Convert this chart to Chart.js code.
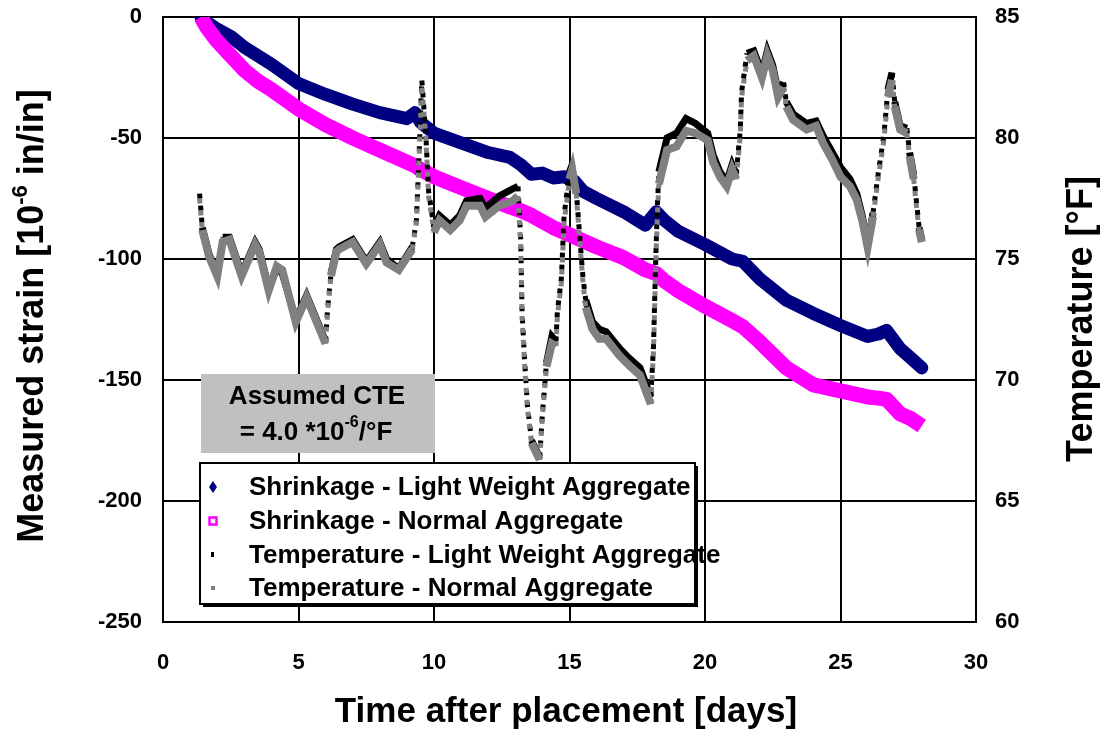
<!DOCTYPE html>
<html>
<head>
<meta charset="utf-8">
<script src="https://cdn.jsdelivr.net/npm/chart.js@4"></script>
<style>
  body { margin: 0; background: #fff; }
  #wrap { width: 1103px; height: 735px; }
</style>
</head>
<body>
<div id="wrap"><canvas id="chart" width="1103" height="735"></canvas></div>
<script>
// Shrinkage readings (strain, 10^-6 in/in) vs time after placement (days)
const shrinkDays = [1.4, 1.6, 2, 2.5, 3, 3.5, 4, 5, 6, 7, 8, 9, 9.3, 9.5, 10, 11, 12, 12.8, 13.2, 13.6, 14, 14.4,
  14.8, 15.2, 15.5, 16, 17, 17.8, 18.2, 18.5, 19, 20, 21, 21.4, 22, 23, 24, 25, 26, 26.4, 26.7, 27.2, 27.6, 28];
const shrinkLWA = [0, -2, -5, -8, -12.5, -16, -19.5, -27.5, -32, -36, -39.5, -42, -39.5, -43.5, -48, -52, -56, -58,
  -61, -65, -64.5, -66.5, -66, -68, -72, -75, -80.5, -86, -80.5, -84, -88.5, -94, -100, -101, -108, -117, -122.5,
  -127.5, -132, -131, -129.5, -137, -141, -145];
const shrinkNA = [0, -4, -10, -16, -22, -26.5, -30, -38, -44.5, -50, -55, -60, -61.5, -63, -66, -70.5, -75, -78.5,
  -80, -82, -84.5, -87, -89, -91, -92.5, -95, -99.5, -104.5, -106, -109, -113, -119.5, -125.5, -128, -134, -145,
  -152, -154.5, -157, -157.5, -158, -164, -166, -169];

// Temperature readings (°F)
const tempDays = [1.35, 1.45, 1.7, 2.0, 2.2, 2.45, 2.9, 3.4, 3.55, 3.9, 4.2, 4.4, 4.9, 5.3, 6.0,
  6.07, 6.2, 6.4, 6.5, 7.0, 7.5, 8.0, 8.25, 8.7, 9.2,
  9.35, 9.45, 9.55, 9.7, 9.8, 10.0, 10.2, 10.6, 10.95, 11.2, 11.7, 11.9, 12.4, 12.9, 13.1,
  13.2, 13.25, 13.35, 13.45, 13.6, 13.9, 14.0, 14.15, 14.35, 14.5, 14.55, 14.7, 14.8, 15.0, 15.1, 15.25, 15.4,
  15.5, 15.6, 15.85, 16.1, 16.35, 16.85, 17.2, 17.6, 18.0,
  18.1, 18.15, 18.2, 18.25, 18.3, 18.6, 18.95, 19.3, 19.65, 20.1, 20.3, 20.55, 20.8, 21.0, 21.15, 21.3, 21.35,
  21.55, 21.8, 22.1, 22.3, 22.5, 22.7, 22.9, 23.0, 23.25, 23.75, 24.1, 24.35, 24.7, 25.0, 25.35, 25.6, 25.8,
  26.0, 26.2, 26.4, 26.6, 26.75, 26.9, 27.0, 27.2, 27.45, 27.55, 27.7, 27.8, 27.9, 28.0];
const tempLWA = [77.7, 76.3, 75.2, 74.4, 75.9, 75.9, 74.4, 75.7, 75.4, 73.8, 74.6, 74.4, 72.5, 73.5, 71.6,
  72.9, 74.4, 75.4, 75.5, 75.8, 74.9, 75.7, 75.0, 74.6, 75.5,
  76.6, 79.3, 82.4, 80.1, 77.8, 76.3, 76.8, 76.4, 76.8, 77.4, 77.5, 77.1, 77.6, 77.9, 78.0,
  75.8, 72.8, 70.7, 68.9, 67.5, 66.8, 68.6, 70.7, 71.8, 71.6, 72.8, 74.2, 76.8, 78.6, 78.9, 77.8, 75.6,
  74.2, 73.3, 72.4, 72.1, 72.0, 71.3, 70.9, 70.5, 69.3,
  71.4, 73.6, 75.7, 77.4, 78.6, 80.0, 80.2, 80.8, 80.6, 80.2, 79.3, 78.6, 78.2, 78.9, 78.5, 80.3, 81.9,
  83.5, 83.6, 82.7, 83.6, 83.0, 81.9, 82.3, 81.5, 81.0, 80.6, 80.7, 80.1, 79.4, 78.8, 78.3, 77.7, 76.8,
  75.6, 76.9, 78.6, 80.1, 82.0, 82.7, 81.5, 80.5, 80.4, 79.4, 78.5, 77.4, 76.3, 75.8];
const tempNA = [77.5, 76.2, 75.1, 74.3, 75.7, 75.8, 74.3, 75.6, 75.3, 73.7, 74.7, 74.55, 72.4, 73.4, 71.5,
  72.8, 74.3, 75.3, 75.4, 75.7, 74.8, 75.6, 74.85, 74.55, 75.4,
  76.5, 79.1, 82.2, 80.0, 77.6, 76.1, 76.6, 76.2, 76.6, 77.2, 77.2, 76.75, 77.2, 77.4, 77.6,
  75.5, 72.6, 70.5, 68.8, 67.4, 66.7, 68.5, 70.55, 71.5, 71.4, 72.6, 74.0, 76.5, 78.3, 78.7, 77.7, 75.4,
  74.0, 73.0, 72.1, 71.7, 71.7, 71.0, 70.6, 70.2, 69.0,
  71.2, 73.3, 75.4, 77.0, 78.1, 79.5, 79.65, 80.3, 80.2, 79.9, 79.0, 78.4, 78.0, 78.7, 78.3, 80.05, 81.7,
  83.2, 83.4, 82.5, 83.4, 82.8, 81.7, 82.1, 81.3, 80.75, 80.35, 80.5, 79.8, 79.1, 78.4, 78.0, 77.45, 76.6,
  75.5, 76.75, 78.4, 79.9, 81.7, 82.4, 81.3, 80.35, 80.2, 79.25, 78.3, 77.2, 76.2, 75.7];

const seriesLabels = [
  'Shrinkage - Light Weight Aggregate',
  'Shrinkage - Normal Aggregate',
  'Temperature - Light Weight Aggregate',
  'Temperature - Normal Aggregate'
];

const FONT = "'Liberation Sans', Arial, sans-serif";

const toPoints = (xs, ys) => xs.map((x, i) => ({ x: x, y: ys[i] }));

// fast temperature swings are sparse in the logger data, so they show as dots
const isSteep = ctx => Math.abs(ctx.p1.y - ctx.p0.y) > 6.4 * Math.abs(ctx.p1.x - ctx.p0.x);
const tempSegment = {
  borderDash: ctx => isSteep(ctx) ? [5, 7] : undefined,
  borderWidth: ctx => isSteep(ctx) ? 5 : undefined
};

function drawRich(ctx, parts, x, y) {
  let total = 0;
  parts.forEach(p => { ctx.font = p[1]; total += ctx.measureText(p[0]).width; });
  let cx = x - total / 2;
  ctx.textAlign = 'left';
  parts.forEach(p => {
    ctx.font = p[1];
    ctx.fillText(p[0], cx, y + p[2]);
    cx += ctx.measureText(p[0]).width;
  });
}

const overlays = {
  id: 'overlays',
  afterDraw(chart) {
    const ctx = chart.ctx;
    ctx.save();
    ctx.fillStyle = '#000';
    ctx.textBaseline = 'middle';

    // left axis title with superscript
    ctx.save();
    ctx.translate(33, 316);
    ctx.rotate(-Math.PI / 2);
    drawRich(ctx, [
      ['Measured strain [10', 'bold 36px ' + FONT, 0],
      ['-6', 'bold 22px ' + FONT, -12],
      [' in/in]', 'bold 36px ' + FONT, 0]
    ], 0, 0);
    ctx.restore();

    // right axis title
    ctx.save();
    ctx.translate(1082, 319);
    ctx.rotate(-Math.PI / 2);
    ctx.textAlign = 'center';
    ctx.font = 'bold 36px ' + FONT;
    ctx.fillText('Temperature [°F]', 0, 0);
    ctx.restore();

    // bottom axis title
    ctx.textAlign = 'center';
    ctx.font = 'bold 35px ' + FONT;
    ctx.fillText('Time after placement [days]', 566, 712);

    // CTE note
    ctx.fillStyle = '#c0c0c0';
    ctx.fillRect(201, 374, 234, 79);
    ctx.fillStyle = '#000';
    ctx.textAlign = 'center';
    ctx.font = 'bold 26px ' + FONT;
    ctx.fillText('Assumed CTE', 317, 397);
    drawRich(ctx, [
      ['= 4.0 *10', 'bold 26px ' + FONT, 0],
      ['-6', 'bold 16px ' + FONT, -10],
      ['/°F', 'bold 26px ' + FONT, 0]
    ], 316, 433);

    // legend box with shadow
    const lx = 200, ly = 463, lw = 495, lh = 141;
    ctx.fillStyle = '#000';
    ctx.fillRect(lx + 3, ly + 3, lw, lh);
    ctx.fillStyle = '#fff';
    ctx.fillRect(lx, ly, lw, lh);
    ctx.strokeStyle = '#000';
    ctx.lineWidth = 2;
    ctx.strokeRect(lx, ly, lw, lh);

    const rows = [487, 521, 555, 588];
    ctx.font = 'bold 26px ' + FONT;
    ctx.textAlign = 'left';
    chart.data.datasets.forEach((ds, i) => {
      const y = rows[i], mx = 213;
      if (i === 0) {
        ctx.fillStyle = '#000080';
        ctx.beginPath();
        ctx.moveTo(mx, y - 6); ctx.lineTo(mx + 4, y); ctx.lineTo(mx, y + 6); ctx.lineTo(mx - 4, y);
        ctx.closePath();
        ctx.fill();
      } else if (i === 1) {
        ctx.strokeStyle = '#ff00ff';
        ctx.lineWidth = 2.5;
        ctx.strokeRect(mx - 3.5, y - 3.5, 7, 7);
      } else if (i === 2) {
        ctx.fillStyle = '#000';
        ctx.fillRect(mx - 2, y - 3, 3, 5);
      } else {
        ctx.fillStyle = '#808080';
        ctx.fillRect(mx - 2, y - 2, 4, 4);
      }
      ctx.fillStyle = '#000';
      ctx.fillText(ds.label, 249, y + 1);
    });
    ctx.restore();
  }
};

const tickFont = { family: FONT, size: 22, weight: 'bold' };

new Chart(document.getElementById('chart'), {
  type: 'scatter',
  data: {
    datasets: [
      {
        label: seriesLabels[0],
        data: toPoints(shrinkDays, shrinkLWA),
        yAxisID: 'y',
        showLine: true,
        borderColor: '#000080',
        borderWidth: 13,
        borderJoinStyle: 'round',
        borderCapStyle: 'round',
        pointRadius: 0,
        order: 4
      },
      {
        label: seriesLabels[1],
        data: toPoints(shrinkDays, shrinkNA),
        yAxisID: 'y',
        showLine: true,
        borderColor: '#ff00ff',
        borderWidth: 15,
        borderJoinStyle: 'round',
        borderCapStyle: 'butt',
        pointRadius: 0,
        order: 3
      },
      {
        label: seriesLabels[2],
        data: toPoints(tempDays, tempLWA),
        yAxisID: 'y2',
        showLine: true,
        borderColor: '#000',
        borderWidth: 7,
        pointRadius: 0,
        segment: tempSegment,
        order: 2
      },
      {
        label: seriesLabels[3],
        data: toPoints(tempDays, tempNA),
        yAxisID: 'y2',
        showLine: true,
        borderColor: '#808080',
        borderWidth: 8,
        pointRadius: 0,
        segment: tempSegment,
        order: 1
      }
    ]
  },
  options: {
    responsive: false,
    animation: false,
    layout: { padding: { top: 17, left: 0, right: 0, bottom: 0 } },
    plugins: {
      legend: { display: false },
      tooltip: { enabled: false }
    },
    scales: {
      x: {
        type: 'linear',
        min: 0,
        max: 30,
        ticks: { stepSize: 5, color: '#000', font: tickFont, padding: 28 },
        grid: { color: '#000', lineWidth: 2, drawTicks: false },
        border: { color: '#000', width: 2 },
        afterFit: scale => { scale.height = 113; scale.paddingLeft = 0; scale.paddingRight = 0; }
      },
      y: {
        position: 'left',
        min: -250,
        max: 0,
        ticks: { stepSize: 50, color: '#000', font: tickFont, padding: 21 },
        grid: { color: '#000', lineWidth: 2, drawTicks: false },
        border: { color: '#000', width: 2 },
        afterFit: scale => { scale.width = 163; scale.paddingTop = 0; scale.paddingBottom = 0; }
      },
      y2: {
        position: 'right',
        min: 60,
        max: 85,
        ticks: { stepSize: 5, color: '#000', font: tickFont, padding: 19 },
        grid: { display: false, drawTicks: false },
        border: { color: '#000', width: 2 },
        afterFit: scale => { scale.width = 127; scale.paddingTop = 0; scale.paddingBottom = 0; }
      }
    }
  },
  plugins: [overlays]
});
</script>
</body>
</html>
